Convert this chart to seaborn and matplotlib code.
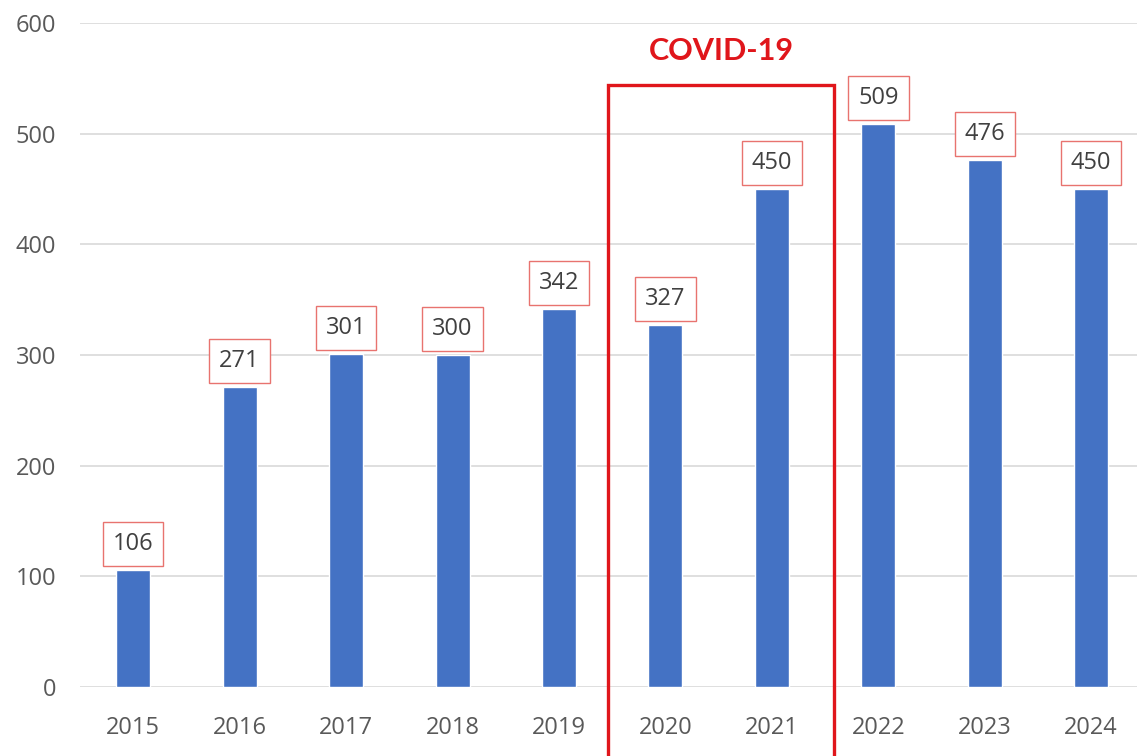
import matplotlib.pyplot as plt
import seaborn as sns
from matplotlib.patches import Rectangle

years = ["2015", "2016", "2017", "2018", "2019", "2020", "2021", "2022", "2023", "2024"]
counts = [106, 271, 301, 300, 342, 327, 450, 509, 476, 450]
covid_years = ["2020", "2021"]
covid_label = "COVID-19"

bar_color = "#4472C4"
red = "#E0161B"
text_gray = "#595959"

sns.set_style("white")
plt.rcParams["font.family"] = ["Open Sans", "DejaVu Sans"]

fig = plt.figure(figsize=(11.37, 7.56), dpi=100)
ax = fig.add_axes([80 / 1137, 69 / 756, 1057 / 1137, 664 / 756])

sns.barplot(x=years, y=counts, color=bar_color, saturation=1, width=0.32, ax=ax)

ax.set_ylim(0, 600)
ax.set_xlim(-0.5, 9.43)
ax.set_yticks(range(0, 601, 100))
ax.yaxis.grid(True, color="#D9D9D9", linewidth=1.2)
ax.set_axisbelow(True)
sns.despine(ax=ax, left=True, bottom=True)
ax.tick_params(axis="x", length=0, pad=21, labelsize=17, labelcolor=text_gray)
ax.tick_params(axis="y", length=0, pad=17, labelsize=17, labelcolor=text_gray)
ax.set_xlabel("")
ax.set_ylabel("")

# data labels in boxes
for i, v in enumerate(counts):
    ax.annotate(str(v), (i, v), xytext=(0, 10), textcoords="offset points",
                ha="center", va="bottom", fontsize=17, color="#404040",
                bbox=dict(boxstyle="square,pad=0.42", fc="white", ec="#E8736F", lw=1))

# covid highlight
i0 = years.index(covid_years[0])
i1 = years.index(covid_years[-1])
rect = Rectangle((i0 - 0.54, -90), (i1 - i0) + 1.12, 634, fill=False,
                 edgecolor=red, linewidth=2.4, clip_on=False)
ax.add_patch(rect)
ax.text((i0 + i1) / 2 + 0.03, 575, covid_label, ha="center", va="center",
        fontsize=22, fontweight="bold", color=red,
        family=["Lato", "DejaVu Sans"])

fig.savefig("out.png", dpi=100)
